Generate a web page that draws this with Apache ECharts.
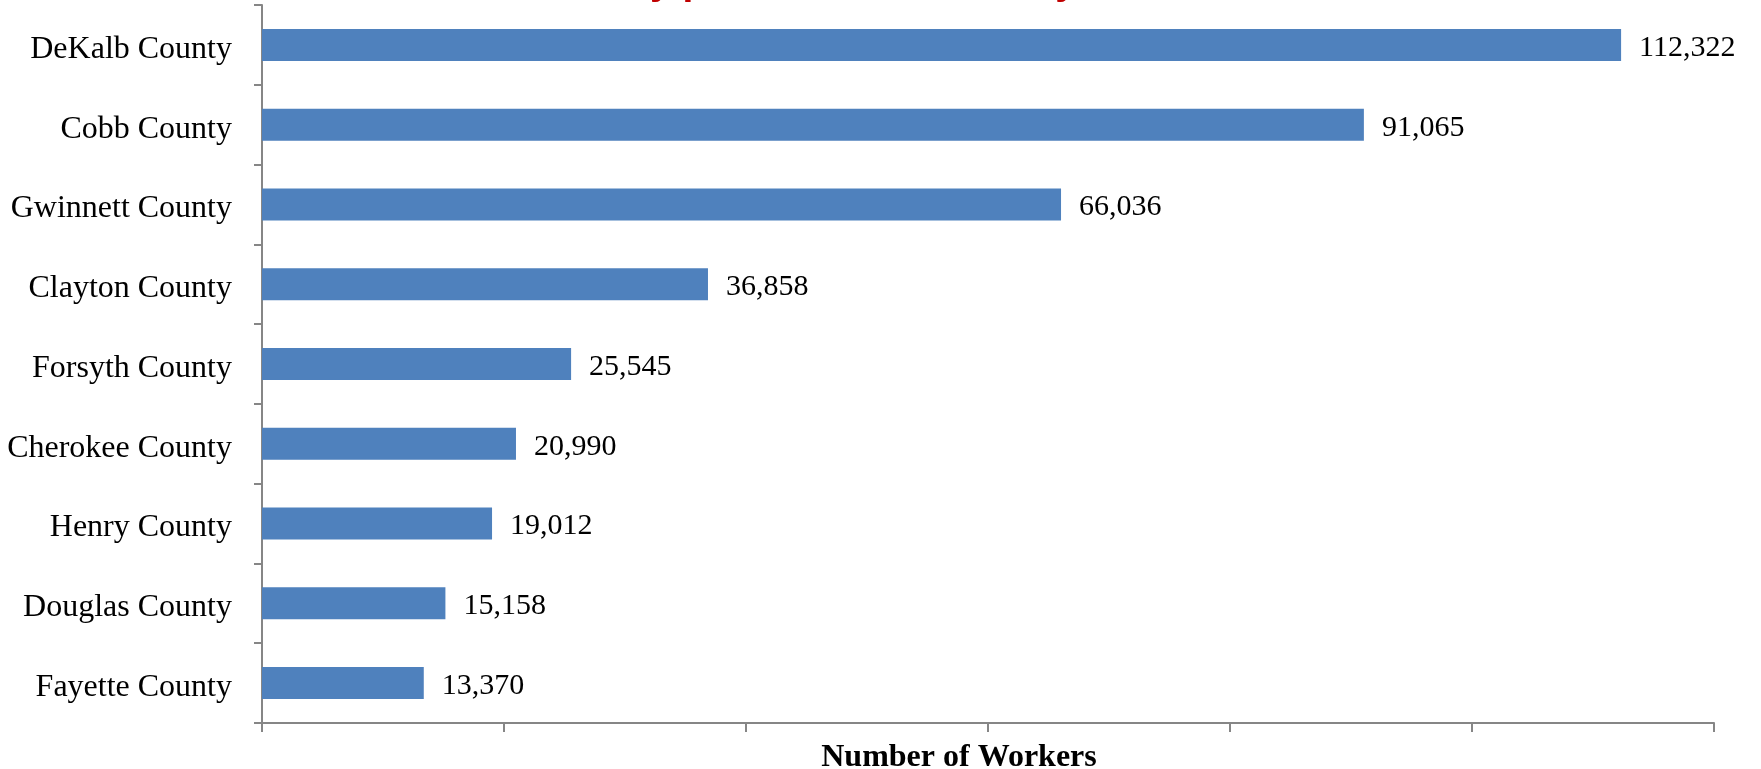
<!DOCTYPE html>
<html>
<head>
<meta charset="utf-8">
<script src="https://cdn.jsdelivr.net/npm/echarts@6/dist/echarts.min.js"></script>
<style>
  html, body { margin: 0; padding: 0; background: #fff; }
  #main { width: 1761px; height: 769px; }
</style>
</head>
<body>
<div id="main"></div>
<script>
// counties, top to bottom
const counties = ['DeKalb County', 'Cobb County', 'Gwinnett County', 'Clayton County', 'Forsyth County',
  'Cherokee County', 'Henry County', 'Douglas County', 'Fayette County']
const workers = [112322, 91065, 66036, 36858, 25545, 20990, 19012, 15158, 13370]
const titleText = 'Workers by place of work County'
const axisName = 'Number of Workers'

const serif = 'Liberation Serif'
const chart = echarts.init(document.getElementById('main'))

chart.setOption({
  animation: false,
  title: {
    text: titleText,
    left: 460,
    top: -36,
    padding: 0,
    textStyle: {
      fontFamily: 'Liberation Sans',
      fontWeight: 'bold',
      fontSize: 39,
      color: '#C00000'
    }
  },
  grid: {left: 262, right: 47, top: 5, bottom: 46, containLabel: false, outerBoundsMode: 'none'},
  xAxis: {
    type: 'value',
    min: 0,
    max: 120000,
    interval: 20000,
    name: axisName,
    nameLocation: 'middle',
    nameGap: 19,
    nameTextStyle: {fontFamily: serif, fontWeight: 'bold', fontSize: 32, color: '#000', padding: [0, 58, 0, 0]},
    axisLine: {show: true, lineStyle: {color: '#868686', width: 2}},
    axisTick: {show: true, length: 9, lineStyle: {color: '#868686', width: 2}},
    axisLabel: {show: false},
    splitLine: {show: false}
  },
  yAxis: {
    type: 'category',
    inverse: true,
    data: counties,
    axisLine: {show: true, lineStyle: {color: '#868686', width: 2}},
    axisTick: {show: true, length: 8, lineStyle: {color: '#868686', width: 2}},
    axisLabel: {
      margin: 30,
      formatter: (v) => '{a|' + v + '}',
      rich: {
        a: {fontFamily: serif, fontSize: 32, color: '#000', padding: [9, 0, 0, 0]}
      }
    }
  },
  series: [
    {
      type: 'bar',
      data: workers,
      barWidth: 32,
      itemStyle: {color: '#4F81BD'},
      label: {
        show: true,
        position: 'right',
        distance: 18,
        offset: [0, 3],
        fontFamily: serif,
        fontSize: 30,
        color: '#000',
        formatter: (p) => p.value.toLocaleString('en-US')
      }
    }
  ]
})
</script>
</body>
</html>
